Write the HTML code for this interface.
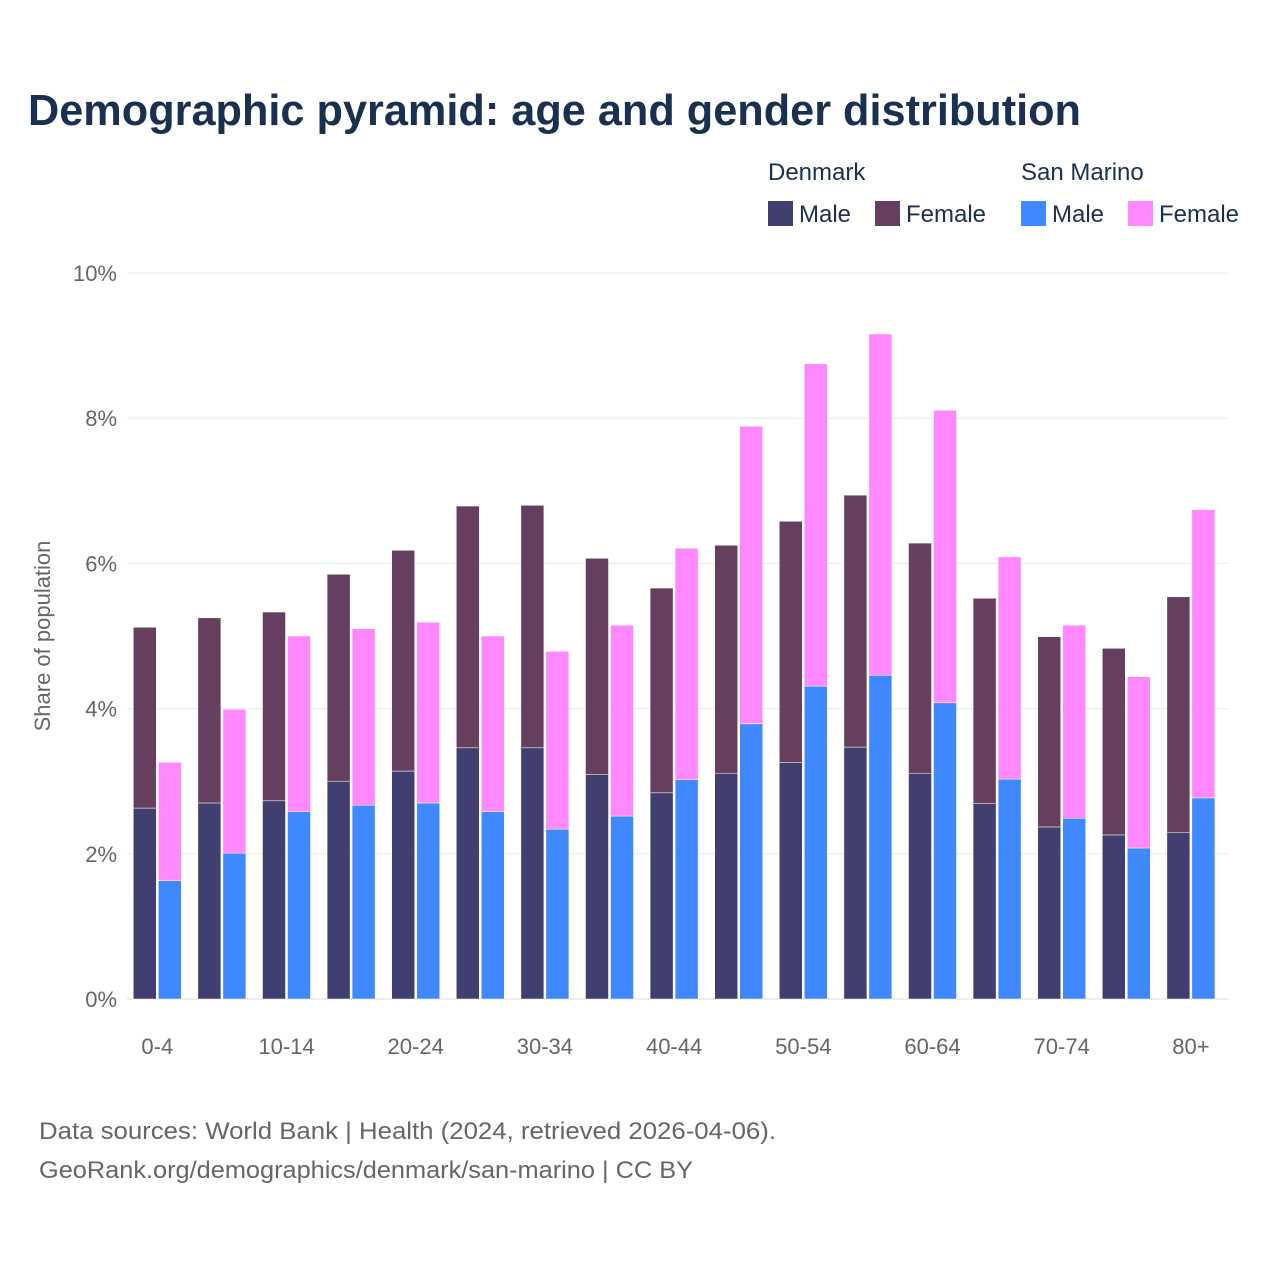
<!DOCTYPE html>
<html><head><meta charset="utf-8"><style>
body{margin:0;background:#fff;font-family:"Liberation Sans",sans-serif}
</style></head><body>
<svg width="1280" height="1280" xmlns="http://www.w3.org/2000/svg" id="svg" font-family="Liberation Sans, sans-serif">
<rect width="1280" height="1280" fill="#fff"/>
<text x="28" y="125" font-size="44" font-weight="bold" fill="#1a3050" textLength="1053" lengthAdjust="spacingAndGlyphs">Demographic pyramid: age and gender distribution</text>
<g font-size="24" fill="#1a3050">
<text x="768" y="180">Denmark</text>
<text x="1021" y="180">San Marino</text>
<rect x="768" y="201" width="25" height="25" fill="#413f6f"/><text x="799" y="222">Male</text>
<rect x="875" y="201" width="25" height="25" fill="#663f5f"/><text x="906" y="222">Female</text>
<rect x="1021" y="201" width="25" height="25" fill="#3f88ff"/><text x="1052" y="222">Male</text>
<rect x="1128" y="201" width="25" height="25" fill="#ff88ff"/><text x="1159" y="222">Female</text>
</g>
<text transform="translate(50,636) rotate(-90)" text-anchor="middle" font-size="22" fill="#666">Share of population</text>
<g id="grid"></g><g id="bars"></g><g id="xt"></g>
<text x="39" y="1139" font-size="24" fill="#666" textLength="737" lengthAdjust="spacingAndGlyphs">Data sources: World Bank | Health (2024, retrieved 2026-04-06).</text>
<text x="39" y="1178" font-size="24" fill="#666" textLength="654" lengthAdjust="spacingAndGlyphs">GeoRank.org/demographics/denmark/san-marino | CC BY</text>
</svg>
<script>
const categories=["0-4","5-9","10-14","15-19","20-24","25-29","30-34","35-39","40-44","45-49","50-54","55-59","60-64","65-69","70-74","75-79","80+"];
const dkMale=[2.63,2.70,2.73,3.0,3.14,3.46,3.46,3.09,2.84,3.11,3.26,3.47,3.11,2.69,2.37,2.26,2.29];
const dkTotal=[5.12,5.25,5.33,5.85,6.18,6.79,6.80,6.07,5.66,6.25,6.58,6.94,6.28,5.52,4.99,4.83,5.54];
const smMale=[1.63,2.01,2.58,2.67,2.70,2.58,2.34,2.52,3.02,3.79,4.31,4.46,4.08,3.03,2.49,2.08,2.77];
const smTotal=[3.26,3.99,5.0,5.10,5.19,5.0,4.79,5.15,6.21,7.89,8.75,9.16,8.11,6.09,5.15,4.44,6.74];
const yTicks=[0,2,4,6,8,10];
const NS="http://www.w3.org/2000/svg";
const y=v=>999-v*72.6;
const band=64.6,left=125;
const xc=i=>left+band*(i+0.5);
function mk(t,a,p){const e=document.createElementNS(NS,t);for(const k in a)e.setAttribute(k,a[k]);p.appendChild(e);return e;}
const grid=document.getElementById('grid'),bars=document.getElementById('bars'),xt=document.getElementById('xt');
yTicks.forEach(t=>{
 const l=mk('line',{x1:127,x2:1228,y1:y(t),y2:y(t),stroke:t===0?'#ddd':'#e8e8e8','stroke-width':1},grid);
 
 
 const tx=mk('text',{x:117,y:y(t)+8,'text-anchor':'end','font-size':22,fill:'#666'},grid);
 tx.textContent=t+'%';
 
 
});
const w=23;
categories.forEach((c,i)=>{
 const c0=xc(i);
 const segs=[[c0-w-1,0,dkMale[i],'#413f6f','bar-dk-male'],[c0-w-1,dkMale[i],dkTotal[i],'#663f5f','bar-dk-female'],[c0+1,0,smMale[i],'#3f88ff','bar-sm-male'],[c0+1,smMale[i],smTotal[i],'#ff88ff','bar-sm-female']];
 segs.forEach(s=>{
  const r=mk('rect',{x:s[0],y:y(s[2]),width:w,height:y(s[1])-y(s[2]),fill:s[3],stroke:'#fff','stroke-width':0.5},bars);
  
  
 });
 if(i%2===0){
  const tx=mk('text',{x:c0,y:1054,'text-anchor':'middle','font-size':22,fill:'#666'},xt);
  tx.textContent=c;
  
  
 }
});
</script>
</body></html>
